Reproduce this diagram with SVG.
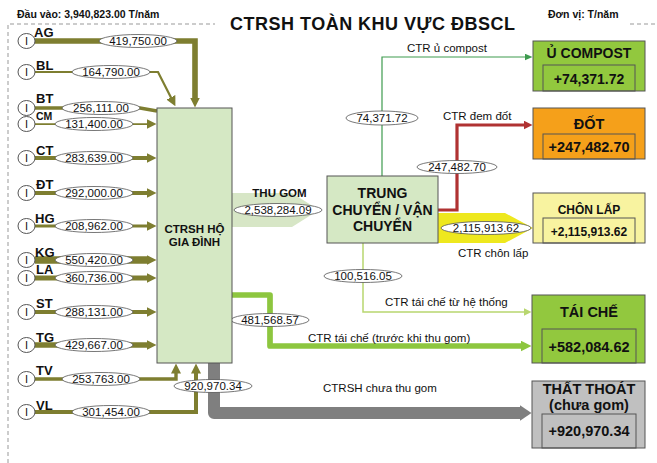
<svg xmlns="http://www.w3.org/2000/svg" width="657" height="463" viewBox="0 0 657 463">
<style>
text{font-family:"Liberation Sans",Arial,sans-serif;fill:#111}
.b{font-weight:bold}
.lbl{font-size:11.5px;text-anchor:middle}
.cl{font-size:11.5px}
.prov{font-weight:bold}
.ol{fill:none;stroke:#7e7e30;stroke-linejoin:miter}
.el{fill:#fff;stroke:#555;stroke-width:0.8}
.src{fill:#fff;stroke:#555;stroke-width:1}
.box{stroke:#555;stroke-width:1}
.ttl{font-weight:bold;text-anchor:middle}
</style>
<defs>
<marker id="aOl" markerUnits="userSpaceOnUse" markerWidth="10" markerHeight="10" refX="0.5" refY="5" orient="auto"><path d="M0,0 L10,5 L0,10 z" fill="#7e7e30"/></marker>
<marker id="aGr" markerUnits="userSpaceOnUse" markerWidth="8" markerHeight="7" refX="0.5" refY="3.5" orient="auto"><path d="M0,0 L8,3.5 L0,7 z" fill="#3e9b4f"/></marker>
<marker id="aRd" markerUnits="userSpaceOnUse" markerWidth="9" markerHeight="9" refX="0.5" refY="4.5" orient="auto"><path d="M0,0 L9,4.5 L0,9 z" fill="#b03232"/></marker>
<marker id="aLg" markerUnits="userSpaceOnUse" markerWidth="8" markerHeight="8" refX="0.5" refY="4" orient="auto"><path d="M0,0 L8,4 L0,8 z" fill="#b8d66f"/></marker>
<marker id="aYg" markerUnits="userSpaceOnUse" markerWidth="11" markerHeight="11" refX="0.5" refY="5.5" orient="auto"><path d="M0,0 L11,5.5 L0,11 z" fill="#8dc63f"/></marker>
<marker id="aGy" markerUnits="userSpaceOnUse" markerWidth="12" markerHeight="16" refX="0.5" refY="8" orient="auto"><path d="M0,0 L12,8 L0,16 z" fill="#7f7f7f"/></marker>
</defs>
<rect width="657" height="463" fill="#fff"/>
<path d="M8,463 V24 H215 M630,24 H657" fill="none" stroke="#999" stroke-width="1" stroke-dasharray="4,3"/>
<text x="372.5" y="30" class="b" font-size="18" text-anchor="middle" textLength="285">CTRSH TOÀN KHU VỰC ĐBSCL</text>
<text x="17" y="18" class="b" font-size="10.5">Đầu vào: 3,940,823.00 T/năm</text>
<text x="548" y="18" class="b" font-size="10.5">Đơn vị: T/năm</text>

<g id="connectors">
<path class="ol" stroke-width="5.6" d="M35,41 H195 V98" marker-end="url(#aOl)"/>
<path class="ol" stroke-width="2.2" d="M35,72 H158 L171.1,97.8" marker-end="url(#aOl)"/>
<path class="ol" stroke-width="3.4" d="M35,108 H140 L157,111"/>
<path class="ol" stroke-width="1.75" d="M35,124 H147" marker-end="url(#aOl)"/>
<path class="ol" stroke-width="3.8" d="M35,158 H147" marker-end="url(#aOl)"/>
<path class="ol" stroke-width="3.9" d="M35,193 H147" marker-end="url(#aOl)"/>
<path class="ol" stroke-width="2.8" d="M35,226 H147" marker-end="url(#aOl)"/>
<path class="ol" stroke-width="7.3" d="M35,260 H147" marker-end="url(#aOl)"/>
<path class="ol" stroke-width="4.8" d="M35,278 H147" marker-end="url(#aOl)"/>
<path class="ol" stroke-width="3.8" d="M35,312 H147" marker-end="url(#aOl)"/>
<path class="ol" stroke-width="5.7" d="M35,345 H147" marker-end="url(#aOl)"/>
<path class="ol" stroke-width="3.4" d="M35,379 H176 V373" marker-end="url(#aOl)"/>
<path class="ol" stroke-width="4" d="M35,412 H196 V373" marker-end="url(#aOl)"/>

<polygon points="232,193 292,193 319,210 292,227 232,227" fill="#d7e6c6"/>
<polygon points="438,213 505,213 533,228 505,243 438,243" fill="#eee81e"/>
<path d="M382,176 V57 H525" fill="none" stroke="#3e9b4f" stroke-width="1.2" marker-end="url(#aGr)"/>
<path d="M438,210 H457 V125 H524" fill="none" stroke="#b03232" stroke-width="3.2" marker-end="url(#aRd)"/>
<path d="M363,243 V312 H524" fill="none" stroke="#b8d66f" stroke-width="1.5" marker-end="url(#aLg)"/>
<path d="M232,295 H270 V346 H521" fill="none" stroke="#8dc63f" stroke-width="5.7" stroke-linejoin="round" marker-end="url(#aYg)"/>
<path d="M214,363 V413 H520" fill="none" stroke="#7f7f7f" stroke-width="12" stroke-linejoin="round" marker-end="url(#aGy)"/>

<ellipse class="el" cx="138" cy="41" rx="39" ry="6.5"/><text class="lbl" x="138" y="45">419,750.00</text>
<ellipse class="el" cx="111" cy="72" rx="39" ry="6.5"/><text class="lbl" x="111" y="76">164,790.00</text>
<ellipse class="el" cx="101" cy="108" rx="39" ry="6.5"/><text class="lbl" x="101" y="112">256,111.00</text>
<ellipse class="el" cx="94" cy="124" rx="39" ry="6.5"/><text class="lbl" x="94" y="128">131,400.00</text>
<ellipse class="el" cx="94" cy="158" rx="39" ry="6.5"/><text class="lbl" x="94" y="162">283,639.00</text>
<ellipse class="el" cx="94" cy="193" rx="39" ry="6.5"/><text class="lbl" x="94" y="197">292,000.00</text>
<ellipse class="el" cx="94" cy="226" rx="39" ry="6.5"/><text class="lbl" x="94" y="230">208,962.00</text>
<ellipse class="el" cx="94" cy="260" rx="39" ry="6.5"/><text class="lbl" x="94" y="264">550,420.00</text>
<ellipse class="el" cx="94" cy="278" rx="39" ry="6.5"/><text class="lbl" x="94" y="282">360,736.00</text>
<ellipse class="el" cx="94" cy="312" rx="39" ry="6.5"/><text class="lbl" x="94" y="316">288,131.00</text>
<ellipse class="el" cx="94" cy="345" rx="39" ry="6.5"/><text class="lbl" x="94" y="349">429,667.00</text>
<ellipse class="el" cx="101" cy="379" rx="39" ry="6.5"/><text class="lbl" x="101" y="383">253,763.00</text>
<ellipse class="el" cx="111" cy="412" rx="39" ry="6.5"/><text class="lbl" x="111" y="416">301,454.00</text>

<text x="279.5" y="197" class="b" font-size="11.5" text-anchor="middle">THU GOM</text>
<ellipse class="el" cx="278" cy="210" rx="44" ry="6.5"/><text class="lbl" x="278" y="214">2,538,284.09</text>
<text class="cl" x="407" y="52">CTR ủ compost</text>
<ellipse class="el" cx="382" cy="118" rx="36" ry="7"/><text class="lbl" x="382" y="122">74,371.72</text>
<text class="cl" x="443" y="120">CTR đem đốt</text>
<ellipse class="el" cx="457" cy="167" rx="40" ry="6.5"/><text class="lbl" x="457" y="171">247,482.70</text>
<ellipse class="el" cx="486" cy="228" rx="45" ry="6.5"/><text class="lbl" x="486" y="232">2,115,913.62</text>
<text class="cl" x="458" y="257">CTR chôn lấp</text>
<ellipse class="el" cx="363" cy="276" rx="39" ry="6.5"/><text class="lbl" x="363" y="280">100,516.05</text>
<text class="cl" x="385" y="306">CTR tái chế từ hệ thống</text>
<ellipse class="el" cx="270" cy="320" rx="39" ry="6.5"/><text class="lbl" x="270" y="324">481,568.57</text>
<text class="cl" x="308" y="342">CTR tái chế (trước khi thu gom)</text>
<ellipse class="el" cx="213" cy="386" rx="39" ry="6.5"/><text class="lbl" x="213" y="390">920,970.34</text>
<text class="cl" x="323" y="392">CTRSH chưa thu gom</text>
</g>

<g id="src-AG"><ellipse class="src" cx="26.5" cy="41" rx="8.5" ry="7.5"/><text x="26.5" y="45" font-size="11" text-anchor="middle">I</text><text class="prov" x="34" y="37" font-size="13">AG</text></g>
<g id="src-BL"><ellipse class="src" cx="26.5" cy="72" rx="8.5" ry="7.5"/><text x="26.5" y="76" font-size="11" text-anchor="middle">I</text><text class="prov" x="36" y="70" font-size="13">BL</text></g>
<g id="src-BT"><ellipse class="src" cx="26.5" cy="108" rx="8.5" ry="7.5"/><text x="26.5" y="112" font-size="11" text-anchor="middle">I</text><text class="prov" x="36" y="103" font-size="13">BT</text></g>
<g id="src-CM"><ellipse class="src" cx="26.5" cy="124" rx="8.5" ry="7.5"/><text x="26.5" y="128" font-size="11" text-anchor="middle">I</text><text class="prov" x="36" y="120" font-size="10.5">CM</text></g>
<g id="src-CT"><ellipse class="src" cx="26.5" cy="158" rx="8.5" ry="7.5"/><text x="26.5" y="162" font-size="11" text-anchor="middle">I</text><text class="prov" x="36" y="155" font-size="13">CT</text></g>
<g id="src-DT"><ellipse class="src" cx="26.5" cy="193" rx="8.5" ry="7.5"/><text x="26.5" y="197" font-size="11" text-anchor="middle">I</text><text class="prov" x="36" y="189" font-size="13">ĐT</text></g>
<g id="src-HG"><ellipse class="src" cx="26.5" cy="226" rx="8.5" ry="7.5"/><text x="26.5" y="230" font-size="11" text-anchor="middle">I</text><text class="prov" x="35" y="223" font-size="13">HG</text></g>
<g id="src-KG"><ellipse class="src" cx="26.5" cy="260" rx="8.5" ry="7.5"/><text x="26.5" y="264" font-size="11" text-anchor="middle">I</text><text class="prov" x="35" y="257" font-size="13">KG</text></g>
<g id="src-LA"><ellipse class="src" cx="26.5" cy="278" rx="8.5" ry="7.5"/><text x="26.5" y="282" font-size="11" text-anchor="middle">I</text><text class="prov" x="36" y="274" font-size="13">LA</text></g>
<g id="src-ST"><ellipse class="src" cx="26.5" cy="312" rx="8.5" ry="7.5"/><text x="26.5" y="316" font-size="11" text-anchor="middle">I</text><text class="prov" x="36" y="308" font-size="13">ST</text></g>
<g id="src-TG"><ellipse class="src" cx="26.5" cy="345" rx="8.5" ry="7.5"/><text x="26.5" y="349" font-size="11" text-anchor="middle">I</text><text class="prov" x="36" y="342" font-size="13">TG</text></g>
<g id="src-TV"><ellipse class="src" cx="26.5" cy="379" rx="8.5" ry="7.5"/><text x="26.5" y="383" font-size="11" text-anchor="middle">I</text><text class="prov" x="36" y="375" font-size="13">TV</text></g>
<g id="src-VL"><ellipse class="src" cx="26.5" cy="412" rx="8.5" ry="7.5"/><text x="26.5" y="416" font-size="11" text-anchor="middle">I</text><text class="prov" x="36" y="410" font-size="13">VL</text></g>

<g id="ctrsh-ho-gia-dinh"><rect class="box" x="157" y="108" width="75" height="255" fill="#d5e8c4"/><text x="194.5" y="233" class="b" font-size="11.5" text-anchor="middle">CTRSH HỘ</text><text x="194.5" y="246" class="b" font-size="11.5" text-anchor="middle">GIA ĐÌNH</text></g>
<g id="trung-chuyen"><rect class="box" x="327" y="176" width="111" height="67" fill="#d5e8c4"/><text x="382.5" y="198" class="b" font-size="14" text-anchor="middle">TRUNG</text><text x="382.5" y="215" class="b" font-size="14" text-anchor="middle">CHUYỂN / VẬN</text><text x="382.5" y="231" class="b" font-size="14" text-anchor="middle">CHUYỂN</text></g>

<g id="u-compost"><rect class="box" x="533" y="41" width="112" height="50" fill="#92c83e"/><rect class="box" x="543" y="65" width="92" height="26" fill="none"/><text class="ttl" x="589" y="58" font-size="14">Ủ COMPOST</text><text class="ttl" x="589" y="84" font-size="14">+74,371.72</text></g>
<g id="dot"><rect class="box" x="533" y="108" width="112" height="51" fill="#f5a01a"/><rect class="box" x="543" y="134" width="92" height="25" fill="none"/><text class="ttl" x="589" y="129" font-size="14.5">ĐỐT</text><text class="ttl" x="589" y="152" font-size="14.5">+247,482.70</text></g>
<g id="chon-lap"><rect class="box" x="533" y="193" width="112" height="50" fill="#f8f3a0"/><rect class="box" x="543" y="218" width="92" height="25" fill="none"/><text class="ttl" x="589" y="214" font-size="12">CHÔN LẤP</text><text class="ttl" x="589" y="236" font-size="12">+2,115,913.62</text></g>
<g id="tai-che"><rect class="box" x="532" y="295" width="113" height="68" fill="#92c83e"/><rect class="box" x="542" y="329" width="94" height="34" fill="none"/><text class="ttl" x="589" y="317" font-size="14.5">TÁI CHẾ</text><text class="ttl" x="589" y="352" font-size="14.5">+582,084.62</text></g>
<g id="that-thoat"><rect class="box" x="532" y="381" width="113" height="67" fill="#c0c0c0"/><rect class="box" x="542" y="414" width="94" height="34" fill="none"/><text class="ttl" x="589" y="394" font-size="14.5">THẤT THOÁT</text><text class="ttl" x="589" y="410" font-size="14.5">(chưa gom)</text><text class="ttl" x="589" y="436" font-size="14.5">+920,970.34</text></g>
</svg>
